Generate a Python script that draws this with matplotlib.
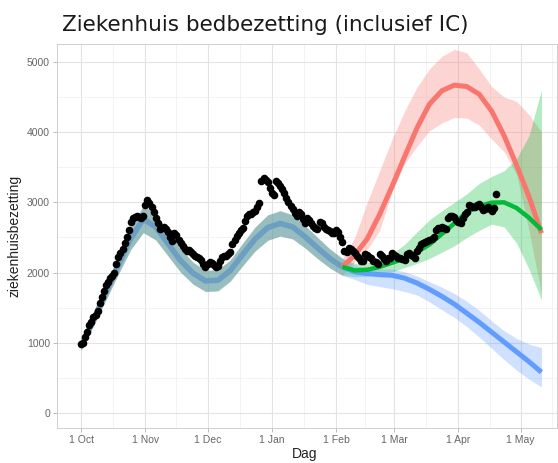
import numpy as np
import pandas as pd
import matplotlib
matplotlib.use('Agg')
import matplotlib.pyplot as plt

# observations (daily, days since 1 Oct 2020)
obs_days = np.arange(0, 201)
obs_vals = [980, 1000, 1080, 1150, 1250, 1300, 1360, 1390, 1450, 1560,
            1650, 1730, 1820, 1860, 1920, 1950, 2000, 2120, 2220, 2280,
            2330, 2420, 2500, 2600, 2720, 2780, 2790, 2800, 2790, 2780,
            2800, 2960, 3040, 2990, 2940, 2860, 2780, 2700, 2620, 2640,
            2650, 2620, 2580, 2500, 2450, 2560, 2540, 2470, 2420, 2380,
            2340, 2300, 2320, 2290, 2260, 2240, 2220, 2200, 2180, 2120,
            2080, 2120, 2150, 2130, 2110, 2080, 2090, 2170, 2220, 2230,
            2240, 2260, 2290, 2400, 2470, 2520, 2560, 2600, 2640, 2730,
            2800, 2830, 2840, 2860, 2880, 2930, 2990, 3300, 3340, 3320,
            3290, 3200, 3140, 3100, 3300, 3270, 3230, 3190, 3140, 3060,
            3000, 2950, 2900, 2850, 2800, 2860, 2840, 2760, 2700, 2770,
            2750, 2700, 2660, 2640, 2620, 2720, 2700, 2650, 2620, 2600,
            2590, 2570, 2560, 2600, 2580, 2500, 2430, 2300, 2290, 2350,
            2340, 2300, 2280, 2240, 2200, 2170, 2160, 2260, 2250, 2220,
            2200, 2170, 2150, 2120, 2270, 2240, 2190, 2170, 2210, 2200,
            2280, 2250, 2230, 2210, 2200, 2190, 2180, 2270, 2280, 2250,
            2230, 2210, 2300, 2350, 2400, 2420, 2440, 2450, 2460, 2480,
            2510, 2600, 2630, 2640, 2650, 2630, 2620, 2780, 2800, 2810,
            2790, 2750, 2720, 2700, 2780, 2830, 2860, 2960, 2950, 2940,
            2930, 2960, 2980, 2940, 2890, 2910, 2930, 2900, 2870, 2920,
            3120]

# model fit on history
fit_days = np.arange(0, 127, 6)
fit_mid = [950, 1330, 1720, 2110, 2490, 2760, 2650, 2410, 2170, 1990, 1880,
           1890, 2030, 2260, 2480, 2640, 2700, 2650, 2510, 2350, 2200, 2080]
fit_lo = [890, 1240, 1610, 1980, 2330, 2570, 2465, 2235, 2005, 1835, 1730,
          1740, 1880, 2100, 2310, 2460, 2520, 2480, 2350, 2200, 2065, 1960]
fit_hi = [1010, 1420, 1830, 2240, 2650, 2950, 2835, 2585, 2335, 2145, 2030,
          2040, 2180, 2420, 2650, 2820, 2880, 2820, 2670, 2500, 2335, 2200]

# scenarios
scen_days = np.arange(126, 223, 6)
red_mid = [2080, 2250, 2480, 2830, 3230, 3650, 4060, 4400, 4590, 4670, 4650,
           4540, 4300, 3950, 3530, 3080, 2560]
red_hi = [2200, 2500, 3000, 3450, 3900, 4300, 4640, 4900, 5080, 5180, 5130,
          4900, 4650, 4500, 4440, 4250, 4000]
red_lo = [1960, 2150, 2330, 2600, 3150, 3550, 3800, 4020, 4130, 4210, 4200,
          4100, 3900, 3720, 3400, 2600, 1700]
green_mid = [2080, 2030, 2040, 2080, 2140, 2200, 2290, 2400, 2550, 2700, 2860,
             2950, 2995, 3000, 2920, 2780, 2610]
green_hi = [2200, 2130, 2140, 2190, 2270, 2400, 2580, 2750, 2880, 3000, 3120,
            3270, 3370, 3450, 3620, 3950, 4600]
green_lo = [1960, 1940, 1950, 1980, 2010, 2070, 2130, 2200, 2290, 2380, 2500,
            2600, 2690, 2650, 2420, 2050, 1610]
blue_mid = [2080, 2010, 1985, 1970, 1960, 1920, 1850, 1760, 1660, 1550, 1420,
            1290, 1150, 1010, 870, 730, 580]
blue_hi = [2200, 2100, 2060, 2050, 2050, 2010, 1950, 1870, 1790, 1700, 1590,
           1460, 1310, 1170, 1060, 980, 930]
blue_lo = [1960, 1900, 1830, 1800, 1770, 1730, 1680, 1580, 1470, 1360, 1230,
           1080, 920, 760, 610, 480, 370]

month_starts = pd.date_range('2020-10-01', '2021-05-01', freq='MS')
tick_labels = ['1 Oct', '1 Nov', '1 Dec', '1 Jan', '1 Feb', '1 Mar', '1 Apr', '1 May']

red = '#F8766D'
green = '#00BA38'
blue = '#619CFF'

fig = plt.figure(figsize=(5.58, 4.63), dpi=100)
ax = fig.add_axes([57/558, 35/463, 500/558, 384/463])

# ribbons (history shared by all three scenarios)
for c, lo, hi in [(red, red_lo, red_hi), (green, green_lo, green_hi), (blue, blue_lo, blue_hi)]:
    ax.fill_between(np.r_[fit_days, scen_days[1:]], np.r_[fit_lo, lo[1:]],
                    np.r_[fit_hi, hi[1:]], color=c, alpha=0.3, lw=0)

ax.plot(fit_days, fit_mid, color='#6d9fc2', lw=4, solid_capstyle='butt')
ax.plot(scen_days, blue_mid, color=blue, lw=3.6, solid_capstyle='butt')
ax.plot(scen_days, red_mid, color=red, lw=3.6, solid_capstyle='butt')
ax.plot(scen_days, green_mid, color=green, lw=3.2, solid_capstyle='butt')

ax.scatter(obs_days, obs_vals, s=30, color='black', zorder=5, lw=0)

# axes styling
major = (month_starts - month_starts[0]).days.values
minor = np.r_[(major[:-1] + major[1:]) / 2, major[-1] + 15]
ax.set_xticks(major)
ax.set_xticklabels(tick_labels)
ax.set_xticks(minor, minor=True)
ax.set_yticks(range(0, 5001, 1000))
ax.set_yticks(range(500, 5001, 1000), minor=True)
ax.set_xlim(-11.6, 229.5)
ax.set_ylim(-215, 5256)

ax.grid(True, which='major', color='#e3e3e3', lw=0.8)
ax.grid(True, which='minor', color='#f1f1f1', lw=0.6)
ax.set_axisbelow(True)
for s in ax.spines.values():
    s.set_color('#c8c8c8')
    s.set_linewidth(0.6)
ax.tick_params(which='major', length=3, width=0.6, color='#b0b0b0',
               labelsize=7.5, labelcolor='#666666', pad=2)
ax.tick_params(which='minor', length=0)
for lab in ax.get_xticklabels() + ax.get_yticklabels():
    lab.set_family('Liberation Sans')

ax.set_ylabel('ziekenhuisbezetting', fontsize=10, family='Liberation Sans', color='#222222')
ax.yaxis.set_label_coords(-0.072, 0.5)
ax.set_xlabel('Dag', fontsize=10, family='Liberation Sans', color='#222222')
ax.xaxis.set_label_coords(0.496, -0.049)

fig.text(62/558, 1 - 31/463, 'Ziekenhuis bedbezetting (inclusief IC)',
         fontsize=15.5, family='DejaVu Sans', va='baseline', ha='left', color='#1a1a1a')

fig.savefig('out.png', dpi=100)
